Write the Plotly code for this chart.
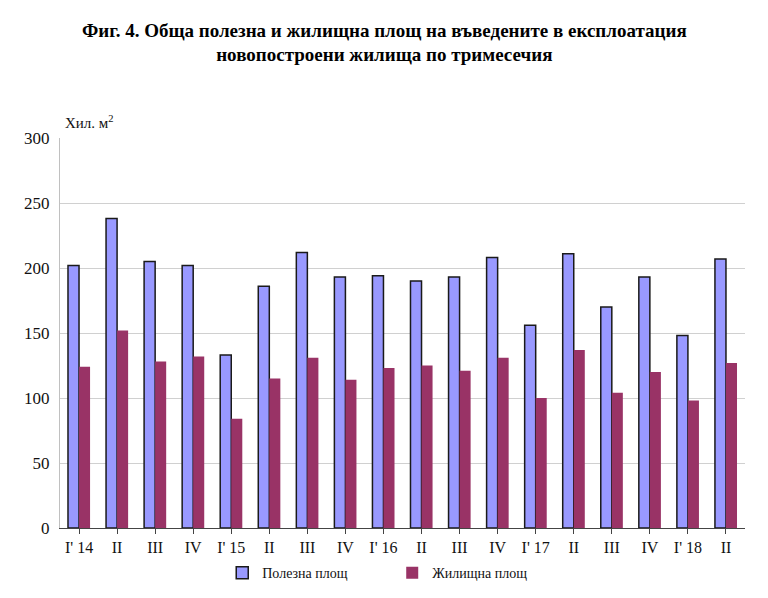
import plotly.graph_objects as go

categories = ["I' 14", "II", "III", "IV", "I' 15", "II", "III", "IV", "I' 16", "II",
              "III", "IV", "I' 17", "II", "III", "IV", "I' 18", "II"]
polezna = [202, 238, 205, 202, 133, 186, 212, 193, 194, 190, 193, 208, 156, 211, 170, 193, 148, 207]
zhilishtna = [124, 152, 128, 132, 84, 115, 131, 114, 123, 125, 121, 131, 100, 137, 104, 120, 98, 127]
y_ticks = [0, 50, 100, 150, 200, 250, 300]

x_idx = list(range(len(categories)))

fig = go.Figure()
fig.add_trace(go.Bar(x=x_idx, y=polezna, name="Полезна площ",
                     marker=dict(color="#9999FF", line=dict(color="#1a1a1a", width=1.5))))
fig.add_trace(go.Bar(x=x_idx, y=zhilishtna, name="Жилищна площ",
                     marker=dict(color="#993366", line=dict(width=0))))

serif = "Liberation Serif, Times New Roman, serif"

fig.update_layout(
    width=768, height=598,
    paper_bgcolor="white", plot_bgcolor="white",
    margin=dict(l=52, r=31, t=130, b=78),
    barmode="group", bargap=0.42, bargroupgap=0,
    font=dict(family=serif, color="#111111"),
    title=dict(text="<b>Фиг. 4. Обща полезна и жилищна площ на въведените в експлоатация<br>новопостроени жилища по тримесечия</b>",
               x=0.49, xanchor="center", y=0.952, yanchor="top",
               font=dict(family=serif, size=19, color="#000000")),
    showlegend=True,
    legend=dict(orientation="h", x=0.485, xanchor="center", y=-0.075, yanchor="top",
                font=dict(family=serif, size=14, color="#111111"),
                entrywidth=125, itemwidth=30, traceorder="normal"),
    xaxis=dict(tickmode="array", tickvals=x_idx, ticktext=categories,
               range=[-0.5, len(categories) - 0.5],
               tickson="boundaries", ticks="outside", ticklen=5, tickcolor="#444444",
               showline=True, linecolor="#444444", linewidth=1,
               tickfont=dict(family=serif, size=16, color="#111111"),
               showgrid=False, zeroline=False),
    yaxis=dict(range=[0, 300], tickmode="array", tickvals=y_ticks,
               showgrid=True, gridcolor="#d0d0d0", gridwidth=1,
               showline=True, linecolor="#c0c0c0", linewidth=1,
               ticks="", zeroline=False, ticklabelstandoff=6,
               tickfont=dict(family=serif, size=17, color="#111111")),
    annotations=[dict(text="Хил. м<sup>2</sup>", xref="paper", yref="paper",
                      x=0.005, y=1.0, xanchor="left", yanchor="bottom", yshift=5,
                      showarrow=False, font=dict(family=serif, size=15, color="#111111"))],
)

fig.write_html("out.html")
